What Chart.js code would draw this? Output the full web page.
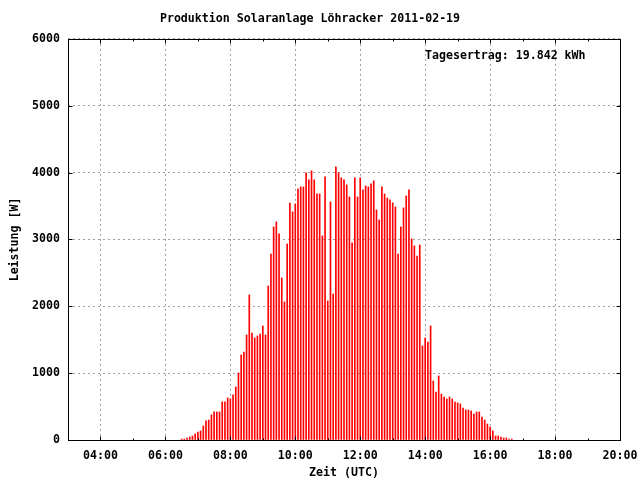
<!DOCTYPE html>
<html>
<head>
<meta charset="utf-8">
<title>Produktion Solaranlage Löhracker 2011-02-19</title>
<script src="https://cdn.jsdelivr.net/npm/chart.js@4.4.0/dist/chart.umd.min.js"></script>
<style>
  html, body { margin: 0; padding: 0; background: #fff; }
  canvas { display: block; }
</style>
</head>
<body>
<canvas id="chart" width="640" height="480"></canvas>
<script>
// Messzeitpunkte (UTC), alle 5 Minuten
const times = [
    '06:30', '06:35', '06:40', '06:45', '06:50', '06:55',
    '07:00', '07:05', '07:10', '07:15', '07:20', '07:25', '07:30', '07:35', '07:40', '07:45', '07:50', '07:55',
    '08:00', '08:05', '08:10', '08:15', '08:20', '08:25', '08:30', '08:35', '08:40', '08:45', '08:50', '08:55',
    '09:00', '09:05', '09:10', '09:15', '09:20', '09:25', '09:30', '09:35', '09:40', '09:45', '09:50', '09:55',
    '10:00', '10:05', '10:10', '10:15', '10:20', '10:25', '10:30', '10:35', '10:40', '10:45', '10:50', '10:55',
    '11:00', '11:05', '11:10', '11:15', '11:20', '11:25', '11:30', '11:35', '11:40', '11:45', '11:50', '11:55',
    '12:00', '12:05', '12:10', '12:15', '12:20', '12:25', '12:30', '12:35', '12:40', '12:45', '12:50', '12:55',
    '13:00', '13:05', '13:10', '13:15', '13:20', '13:25', '13:30', '13:35', '13:40', '13:45', '13:50', '13:55',
    '14:00', '14:05', '14:10', '14:15', '14:20', '14:25', '14:30', '14:35', '14:40', '14:45', '14:50', '14:55',
    '15:00', '15:05', '15:10', '15:15', '15:20', '15:25', '15:30', '15:35', '15:40', '15:45', '15:50', '15:55',
    '16:00', '16:05', '16:10', '16:15', '16:20', '16:25', '16:30', '16:35', '16:40'
];

// Leistung [W]
const power = [
    15, 15, 30, 45, 60, 90,
    120, 135, 210, 285, 300, 375, 420, 420, 420, 570, 570, 630,
    615, 675, 793, 1003, 1272, 1317, 1571, 2170, 1601, 1526, 1556, 1586,
    1706, 1571, 2304, 2783, 3187, 3262, 3083, 2424, 2065, 2933, 3546, 3412,
    3532, 3756, 3786, 3786, 3995, 3891, 4025, 3891, 3681, 3681, 3053, 3936,
    2080, 3562, 2185, 4085, 3995, 3921, 3891, 3816, 3636, 2948, 3921, 3636,
    3921, 3741, 3801, 3786, 3831, 3876, 3442, 3292, 3786, 3681, 3621, 3592,
    3547, 3487, 2783, 3187, 3472, 3651, 3741, 3008, 2903, 2753, 2918, 1407,
    1526, 1466, 1706, 883, 718, 958, 688, 643, 614, 643, 614, 569,
    554, 539, 479, 449, 449, 434, 389, 419, 419, 344, 299, 239,
    195, 135, 60, 60, 45, 30, 30, 15, 15
];

const xMajorHours = [4, 6, 8, 10, 12, 14, 16, 18, 20];
const yTicks = [0, 1000, 2000, 3000, 4000, 5000, 6000];
const X_MIN = 3, X_MAX = 20;
const dailyYield = 'Tagesertrag: 19.842 kWh';

const FONT = '"DejaVu Sans Mono", "Liberation Mono", monospace';
const toHours = (t) => { const [h, m] = t.split(':').map(Number); return h + m / 60; };
const fmtHour = (v) => String(v).padStart(2, '0') + ':00';

// Rahmen, Ticks nach innen und Tagesertrag
const framePlugin = {
    id: 'frame',
    afterDraw(chart) {
        const { ctx, chartArea: a, scales: { x, y } } = chart;
        const L = Math.round(a.left) + 0.5, R = Math.round(a.right) + 0.5;
        const T = Math.round(a.top) + 0.5, B = Math.round(a.bottom) + 0.5;
        ctx.save();
        ctx.strokeStyle = '#000';
        ctx.lineWidth = 1;
        ctx.beginPath();
        for (let h = X_MIN + 1; h < X_MAX; h++) {
            const px = Math.round(x.getPixelForValue(h)) + 0.5;
            const len = xMajorHours.includes(h) ? 4 : 2;
            ctx.moveTo(px, B); ctx.lineTo(px, B - len);
            ctx.moveTo(px, T); ctx.lineTo(px, T + len);
        }
        yTicks.forEach(v => {
            const py = Math.round(y.getPixelForValue(v)) + 0.5;
            ctx.moveTo(L, py); ctx.lineTo(L + 4, py);
            ctx.moveTo(R, py); ctx.lineTo(R - 4, py);
        });
        ctx.stroke();
        ctx.strokeRect(L, T, R - L, B - T);

        ctx.fillStyle = '#000';
        ctx.font = 'bold 11.6px ' + FONT;
        ctx.textAlign = 'left';
        ctx.textBaseline = 'middle';
        ctx.fillText(dailyYield, a.left + 357, a.top + 17);
        ctx.restore();
    }
};

const ctx = document.getElementById('chart').getContext('2d');
new Chart(ctx, {
    type: 'bar',
    data: {
        datasets: [{
            data: times.map((t, i) => ({ x: toHours(t), y: power[i] })),
            backgroundColor: '#ff0000',
            barThickness: 1,
            borderWidth: 0
        }]
    },
    options: {
        responsive: false,
        animation: false,
        layout: { padding: { top: 0, right: 20, bottom: 0, left: 0 } },
        plugins: {
            legend: { display: false },
            tooltip: { enabled: false },
            title: {
                display: true,
                text: 'Produktion Solaranlage Löhracker 2011-02-19',
                color: '#000',
                font: { family: FONT, size: 11.6, weight: 'bold' },
                padding: { top: 12, bottom: 13 }
            }
        },
        scales: {
            x: {
                type: 'linear',
                min: X_MIN,
                max: X_MAX,
                offset: false,
                afterBuildTicks: (s) => { s.ticks = xMajorHours.map(v => ({ value: v })); },
                afterFit: (s) => { s.height = 40; s.paddingLeft = 0; s.paddingRight = 0; },
                ticks: {
                    color: '#000',
                    padding: 9,
                    maxRotation: 0,
                    autoSkip: false,
                    font: { family: FONT, size: 11.6, weight: 'bold' },
                    callback: (v) => fmtHour(v)
                },
                grid: { color: '#a0a0a0', drawTicks: false, offset: false },
                border: { display: false, dash: [2, 3] },
                title: {
                    display: true,
                    text: 'Zeit (UTC)',
                    color: '#000',
                    font: { family: FONT, size: 11.6, weight: 'bold' },
                    padding: { top: 0, bottom: 0 }
                }
            },
            y: {
                min: 0,
                max: 6000,
                afterBuildTicks: (s) => { s.ticks = yTicks.map(v => ({ value: v })); },
                afterFit: (s) => { s.width = 68; },
                ticks: {
                    color: '#000',
                    padding: 8,
                    font: { family: FONT, size: 11.6, weight: 'bold' },
                    callback: (v) => String(v)
                },
                grid: { color: '#a0a0a0', drawTicks: false },
                border: { display: false, dash: [2, 3] },
                title: {
                    display: true,
                    text: 'Leistung [W]',
                    color: '#000',
                    font: { family: FONT, size: 11.6, weight: 'bold' },
                    padding: { top: 8, bottom: 0 }
                }
            }
        }
    },
    plugins: [framePlugin]
});
</script>
</body>
</html>
